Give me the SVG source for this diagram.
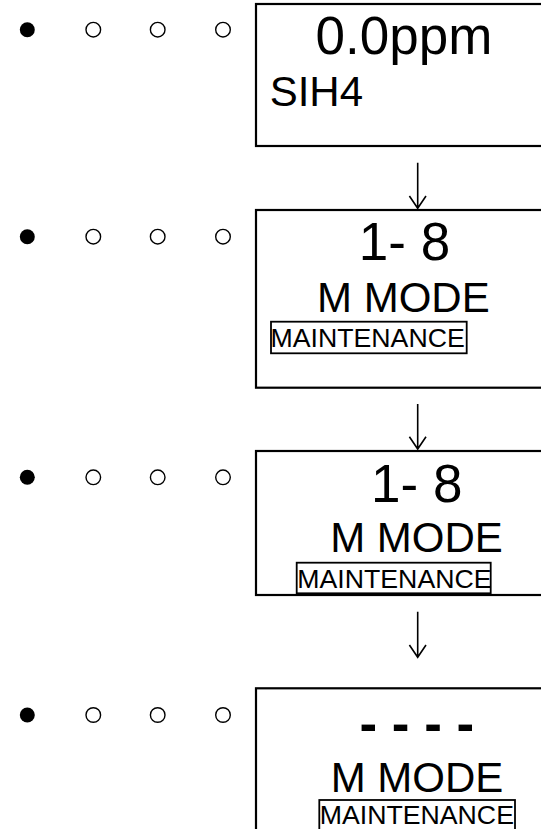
<svg xmlns="http://www.w3.org/2000/svg" width="541" height="829" viewBox="0 0 541 829">
<style>
  .frame { fill: #fff; stroke: #000; stroke-width: 2.2; }
  .tag { fill: none; stroke: #000; stroke-width: 1.8; }
  .t { font-family: "Liberation Sans", Arial, sans-serif; fill: #000; }
  .big { font-size: 53px; }
  .mid { font-size: 42px; }
  .small { font-size: 26.7px; }
  .c { text-anchor: middle; }
  .b { font-weight: bold; }
  .on { fill: #000; }
  .off { fill: #fff; stroke: #000; stroke-width: 1.4; }
  .arrow { fill: none; stroke: #000; stroke-width: 1.6; }
</style>
<rect width="541" height="829" fill="#fff"/>
<defs>
  <g id="dots">
    <circle class="on" cx="27.3" cy="0" r="7.5"/>
    <circle class="off" cx="93.3" cy="0" r="7.3"/>
    <circle class="off" cx="157.7" cy="0" r="7.3"/>
    <circle class="off" cx="223" cy="0" r="7.3"/>
  </g>
</defs>

<g id="node1">
  <use href="#dots" y="29.7"/>
  <rect class="frame" x="256" y="4" width="300" height="142"/>
  <text class="t big c" x="404" y="54.3">0.0ppm</text>
  <text class="t mid" x="269.7" y="106">SIH4</text>
</g>

<g id="node2">
  <use href="#dots" y="236.7"/>
  <rect class="frame" x="256" y="210" width="300" height="177.7"/>
  <text class="t big c" x="404.5" y="260">1- 8</text>
  <text class="t mid c" x="403.4" y="311.7">M MODE</text>
  <rect class="tag" x="271" y="321.7" width="195.7" height="31.6"/>
  <text class="t small" x="270.5" y="346.7">MAINTENANCE</text>
</g>

<g id="node3">
  <use href="#dots" y="477.3"/>
  <rect class="frame" x="256" y="451" width="300" height="144"/>
  <text class="t big c" x="416.7" y="501.7">1- 8</text>
  <text class="t mid c" x="416.5" y="551.7">M MODE</text>
  <rect class="tag" x="296.7" y="562.7" width="194" height="30.6"/>
  <text class="t small" x="297.3" y="587.5">MAINTENANCE</text>
</g>

<g id="node4">
  <use href="#dots" y="715"/>
  <rect class="frame" x="256" y="688.3" width="300" height="160"/>
  <text class="t big c b" x="416.8" y="741.5">- - - -</text>
  <text class="t mid c" x="417" y="791.7">M MODE</text>
  <rect class="tag" x="319.3" y="800" width="195.7" height="34"/>
  <text class="t small" x="319.7" y="824">MAINTENANCE</text>
</g>

<g id="connectors">
  <path class="arrow" d="M417.7 162.7 V208.3 M409.4 196 L417.7 208.3 L426 196"/>
  <path class="arrow" d="M417.7 404 V449 M409.4 436.7 L417.7 449 L426 436.7"/>
  <path class="arrow" d="M417.7 611.7 V657.3 M409.4 645 L417.7 657.3 L426 645"/>
</g>
</svg>
